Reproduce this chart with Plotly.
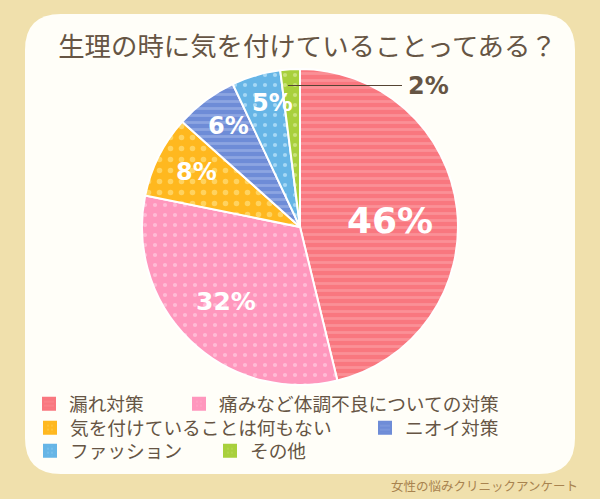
import plotly.graph_objects as go

categories = ["漏れ対策", "痛みなど体調不良についての対策", "気を付けていることは何もない", "ニオイ対策", "ファッション", "その他"]
values = [46.2, 32.0, 8.4, 6.4, 5.0, 2.0]
colors = ["#F9777F", "#FF97BD", "#FFB81F", "#6E8CD7", "#66B5E6", "#A8D03C"]
pattern_fg = ["#FB9096", "#FFBBD5", "#FFD35F", "#8CA5E2", "#A6D8F5", "#C9E27A"]
pattern_shapes = ["-", ".", ".", "-", ".", "."]
pattern_sizes = [7, 10, 11, 7, 10, 10]
pattern_solid = [0.4, 0.14, 0.2, 0.4, 0.14, 0.14]
title_text = "生理の時に気を付けていることってある？"
credit_text = "女性の悩みクリニックアンケート"

W, H = 600, 499
FONT = "Noto Sans CJK JP"
DARK = "#665544"
LABEL_FONT = "DejaVu Sans"


def px(x):
    return x / W


def py(y):
    return 1 - y / H


fig = go.Figure()
fig.add_trace(go.Pie(
    labels=categories,
    values=values,
    sort=False,
    direction="clockwise",
    rotation=0,
    textinfo="none",
    hoverinfo="label+percent",
    showlegend=False,
    domain=dict(x=[px(142), px(458)], y=[py(385), py(69)]),
    marker=dict(
        colors=colors,
        line=dict(color="#FFFFFF", width=2),
        pattern=dict(shape=pattern_shapes, fgcolor=pattern_fg, bgcolor=colors,
                     size=pattern_sizes, solidity=pattern_solid),
    ),
))

# One legend per entry so that the rows can flow like the reference
legend_pos = [(36, 404), (186, 404), (37, 428), (372, 428), (37, 451), (217, 451)]
layout_legends = {}
for i, (cat, col, fg, sh, sz, so, (lx, ly)) in enumerate(
    zip(categories, colors, pattern_fg, pattern_shapes, pattern_sizes, pattern_solid, legend_pos)
):
    key = "legend" if i == 0 else f"legend{i + 1}"
    fig.add_trace(go.Bar(
        x=[None], y=[None], name=cat, legend=key, hoverinfo="skip",
        marker=dict(color=col, line=dict(color=col, width=2),
                    pattern=dict(shape=sh, fgcolor=fg, bgcolor=col, size=min(sz, 5), solidity=so)),
    ))
    layout_legends[key] = dict(
        orientation="h", x=px(lx), y=py(ly), xanchor="left", yanchor="middle",
        font=dict(family=FONT, size=18.7, color=DARK), bgcolor="rgba(0,0,0,0)",
        itemwidth=30, indentation=-7,
    )

label_pos = [(390, 220, 36), (226, 301, 25), (196, 172, 24), (228, 126, 24), (272, 103, 24)]
annotations = [
    dict(
        x=px(x), y=py(y), xref="paper", yref="paper", showarrow=False,
        xanchor="center", yanchor="middle",
        text=f"<b>{round(v)}%</b>", font=dict(family=LABEL_FONT, size=s, color="#FFFFFF"),
    )
    for v, (x, y, s) in zip(values, label_pos)
]
annotations.append(
    dict(
        x=px(428), y=py(86), xref="paper", yref="paper", showarrow=False,
        xanchor="center", yanchor="middle",
        text=f"<b>{round(values[5])}%</b>", font=dict(family=LABEL_FONT, size=24, color=DARK),
    )
)
annotations.append(
    dict(
        x=px(580), y=py(485), xref="paper", yref="paper", xanchor="right", yanchor="middle", showarrow=False,
        text=credit_text, font=dict(family=FONT, size=12.5, color="#A8834F"),
    )
)

L, R, T, B, C = px(25), px(575), py(14), py(474), 36
cx, cy = C / W, C / H
card = (
    f"M {L + cx} {T} H {R - cx} Q {R} {T} {R} {T - cy} V {B + cy} Q {R} {B} {R - cx} {B} "
    f"H {L + cx} Q {L} {B} {L} {B + cy} V {T - cy} Q {L} {T} {L + cx} {T} Z"
)
fig.update_layout(
    width=W, height=H, autosize=False,
    margin=dict(l=0, r=0, t=0, b=0, autoexpand=False),
    paper_bgcolor="#F0E0AC",
    plot_bgcolor="rgba(0,0,0,0)",
    font=dict(family=FONT, color=DARK),
    title=dict(
        text=title_text, x=px(307.5), xanchor="center", y=py(47), yanchor="middle",
        font=dict(family=FONT, size=26.4, color=DARK),
    ),
    annotations=annotations,
    shapes=[
        dict(type="path", path=card, xref="paper", yref="paper", line=dict(width=0),
             fillcolor="#FFFEF8", layer="below"),
        dict(type="line", xref="paper", yref="paper", x0=px(288), x1=px(402), y0=py(85.5), y1=py(85.5),
             line=dict(color="#554433", width=1)),
    ],
    showlegend=True,
    xaxis=dict(visible=False, fixedrange=True),
    yaxis=dict(visible=False, fixedrange=True),
    **layout_legends,
)

fig.write_html("out.html", config=dict(displayModeBar=False),
               post_script="document.body.style.margin='0';")
